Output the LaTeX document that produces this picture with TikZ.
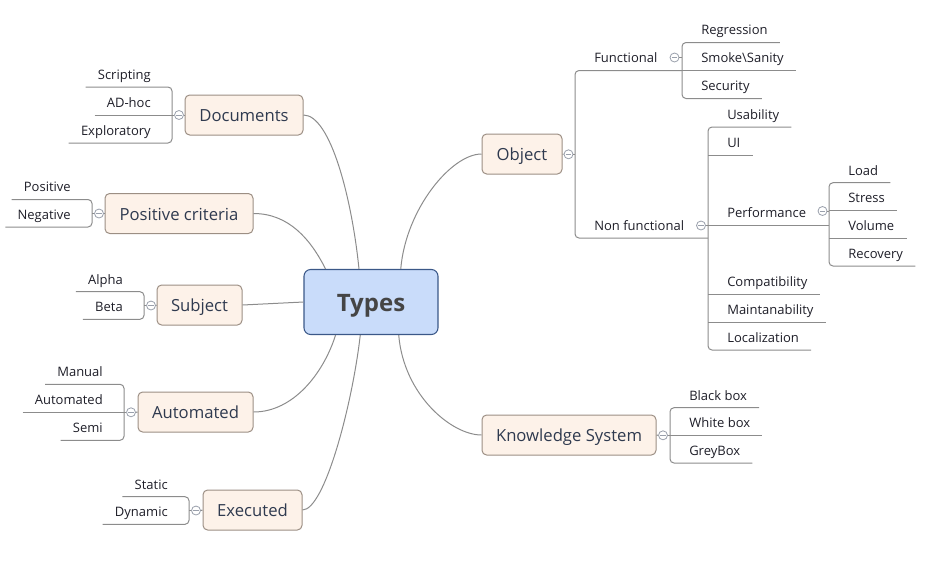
\documentclass[tikz,border=0pt]{standalone}
\usepackage{fontspec}
\setmainfont{Open Sans}
\definecolor{rootfill}{HTML}{C9DCFA}
\definecolor{rootline}{HTML}{3B5888}
\definecolor{roottext}{HTML}{454545}
\definecolor{topicfill}{HTML}{FDF2E9}
\definecolor{topicline}{HTML}{9C8F84}
\definecolor{topictext}{HTML}{2F3A4F}
\definecolor{leaftext}{HTML}{1E1E28}
\definecolor{linegray}{HTML}{8C8C8C}
\definecolor{foldgray}{HTML}{9AA0AC}

\begin{document}
\begin{tikzpicture}[x=0.75pt,y=-0.75pt,
  branch/.style={draw=linegray,line width=0.75pt},
  bracket/.style={branch,rounded corners=3pt},
  root/.style={draw=rootline,fill=rootfill,line width=0.8pt,rounded corners=5pt,
    minimum width=100.5pt,minimum height=48.75pt,inner sep=0pt,text=roottext,
    font=\bfseries\fontsize{18}{21}\selectfont,text height=15pt,text depth=1pt},
  topic/.style={draw=topicline,fill=topicfill,line width=0.75pt,rounded corners=3.5pt,
    minimum height=30pt,inner sep=0pt,text=topictext,
    font=\fontsize{12.5}{15}\selectfont,text height=11.4pt,text depth=1pt},
  leaf/.style={inner xsep=9pt,inner ysep=0pt,minimum height=19.5pt,text=leaftext,
    font=\fontsize{9.75}{11}\selectfont,text height=9.5pt,text depth=1pt},
  leafl/.style={leaf,anchor=south east},
  leafr/.style={leaf,anchor=south west},
  foldmark/.style={circle,draw=foldgray,fill=white,line width=0.6pt,minimum size=6.75pt,
    inner sep=0pt,path picture={\draw[foldgray,line width=0.6pt]
      ([xshift=-1.9pt]path picture bounding box.center) --
      ([xshift=1.9pt]path picture bounding box.center);}}]
\useasboundingbox (0,0) rectangle (927,586);

% central topic
\node[root] (types) at (371,302) {Types};

% main topics
\node[topic,minimum width=88.5pt] (doc) at (244,115) {Documents};
\node[topic,minimum width=111pt] (pos) at (179,213.5) {Positive criteria};
\node[topic,minimum width=63.75pt] (subj) at (199.5,305) {Subject};
\node[topic,minimum width=86.25pt] (auto) at (195.5,412) {Automated};
\node[topic,minimum width=74.25pt] (exec) at (252.5,510) {Executed};
\node[topic,minimum width=60pt] (obj) at (522,154) {Object};
\node[topic,minimum width=130.5pt] (know) at (569,435) {Knowledge System};

% curves to the centre
\draw[branch] (doc.east) .. controls +(27,0) and +(-7,-70) .. (types.110);
\draw[branch] (pos.east) .. controls +(35,0) and +(-15,-30) .. (types.144);
\draw[branch] (subj.east) -- (types.west);
\draw[branch] (auto.east) .. controls +(40,0) and +(-12,38) .. (types.223);
\draw[branch] (exec.east) .. controls +(22,0) and +(-8,70) .. (types.252);
\draw[branch] (obj.west) .. controls +(-30,0) and +(5,-60) .. (types.48);
\draw[branch] (know.west) .. controls +(-30,0) and +(5,60) .. (types.310);

% Documents
\coordinate (docb) at (172,115);
\node[foldmark] (docf) at (179,115) {};
\node[leafl] (scr) at (163,87) {Scripting};
\node[leafl] (adh) at (163,115) {AD-hoc};
\node[leafl] (expl) at (163,143) {Exploratory};
\draw[branch] (docf.east) -- (doc.west);
\draw[branch] (adh.south west) -- (docf.west);
\draw[bracket] (scr.south west) -- (docb |- scr.south) -- (docb |- expl.south) -- (expl.south west);

% Positive criteria
\coordinate (posb) at (92,213.5);
\node[foldmark] (posf) at (99,213.5) {};
\node[leafl] (posv) at (83,199.5) {Positive};
\node[leafl] (negv) at (83,227) {Negative};
\draw[branch] (posf.east) -- (pos.west);
\draw[branch] (posb) -- (posf.west);
\draw[bracket] (posv.south west) -- (posb |- posv.south) -- (posb |- negv.south) -- (negv.south west);

% Subject
\coordinate (subjb) at (144,305.5);
\node[foldmark] (subjf) at (151,305.5) {};
\node[leafl] (alpha) at (135,291.7) {Alpha};
\node[leafl] (beta) at (135,319.3) {Beta};
\draw[branch] (subjf.east) -- (subj.west);
\draw[branch] (subjb) -- (subjf.west);
\draw[bracket] (alpha.south west) -- (subjb |- alpha.south) -- (subjb |- beta.south) -- (beta.south west);

% Automated
\coordinate (autob) at (124,412.3);
\node[foldmark] (autof) at (131,412.3) {};
\node[leafl] (man) at (115,384.3) {Manual};
\node[leafl] (autm) at (115,412.3) {Automated};
\node[leafl] (semi) at (115,440.3) {Semi};
\draw[branch] (autof.east) -- (auto.west);
\draw[branch] (autm.south west) -- (autof.west);
\draw[bracket] (man.south west) -- (autob |- man.south) -- (autob |- semi.south) -- (semi.south west);

% Executed
\coordinate (execb) at (189,510.5);
\node[foldmark] (execf) at (196,510.5) {};
\node[leafl] (stat) at (180,496.7) {Static};
\node[leafl] (dyn) at (180,524.3) {Dynamic};
\draw[branch] (execf.east) -- (exec.west);
\draw[branch] (execb) -- (execf.west);
\draw[bracket] (stat.south west) -- (execb |- stat.south) -- (execb |- dyn.south) -- (dyn.south west);

% Object
\coordinate (objb) at (575,154.3);
\coordinate (funcb) at (682,57.5);
\coordinate (nonfb) at (708,225.5);
\node[foldmark] (objf) at (568.5,154.3) {};
\node[leafr] (func) at (582,70.5) {Functional};
\node[leafr] (nonf) at (582,238) {Non functional};
\draw[branch] (obj.east) -- (objf.west);
\draw[branch] (objf.east) -- (objb);
\draw[bracket] (funcb |- func.south) -- (objb |- func.south) -- (objb |- nonf.south) -- (nonfb |- nonf.south);

% Functional
\node[foldmark] (funcf) at (674.5,57.5) {};
\node[leafr] (reg) at (689,42.5) {Regression};
\node[leafr] (smk) at (689,70.5) {Smoke\textbackslash Sanity};
\node[leafr] (sec) at (689,98.5) {Security};
\draw[branch] (funcf.east) -- (funcb |- funcf);
\draw[branch] (funcb |- smk.south) -- (smk.south east);
\draw[bracket] (reg.south east) -- (funcb |- reg.south) -- (funcb |- sec.south) -- (sec.south east);

% Non functional
\coordinate (perfb) at (829,211);
\node[foldmark] (nonff) at (701,225.5) {};
\node[leafr] (usab) at (715,127) {Usability};
\node[leafr] (ui) at (715,155) {UI};
\node[leafr] (perf) at (715,225) {Performance};
\node[leafr] (compat) at (715,294.3) {Compatibility};
\node[leafr] (maint) at (715,322.3) {Maintanability};
\node[leafr] (localz) at (715,350) {Localization};
\draw[branch] (nonff.east) -- (nonfb |- nonff);
\draw[branch] (nonfb |- ui.south) -- (ui.south east);
\draw[branch] (nonfb |- perf.south) -- (perfb |- perf.south);
\draw[branch] (nonfb |- compat.south) -- (compat.south east);
\draw[branch] (nonfb |- maint.south) -- (maint.south east);
\draw[bracket] (usab.south east) -- (nonfb |- usab.south) -- (nonfb |- localz.south) -- (localz.south east);

% Performance
\node[foldmark] (perff) at (822.5,211) {};
\node[leafr] (load) at (836,182.7) {Load};
\node[leafr] (stress) at (836,210.5) {Stress};
\node[leafr] (vol) at (836,238.3) {Volume};
\node[leafr] (recov) at (836,266) {Recovery};
\draw[branch] (perff.east) -- (perfb |- perff);
\draw[branch] (perfb |- stress.south) -- (stress.south east);
\draw[branch] (perfb |- vol.south) -- (vol.south east);
\draw[bracket] (load.south east) -- (perfb |- load.south) -- (perfb |- recov.south) -- (recov.south east);

% Knowledge System
\coordinate (knowb) at (670,435.3);
\node[foldmark] (knowf) at (663,435.3) {};
\node[leafr] (blk) at (677,407.7) {Black box};
\node[leafr] (wht) at (677,435.3) {White box};
\node[leafr] (gry) at (677,463) {GreyBox};
\draw[branch] (know.east) -- (knowf.west);
\draw[branch] (knowf.east) -- (knowb);
\draw[branch] (knowb |- wht.south) -- (wht.south east);
\draw[bracket] (blk.south east) -- (knowb |- blk.south) -- (knowb |- gry.south) -- (gry.south east);
\end{tikzpicture}
\end{document}
